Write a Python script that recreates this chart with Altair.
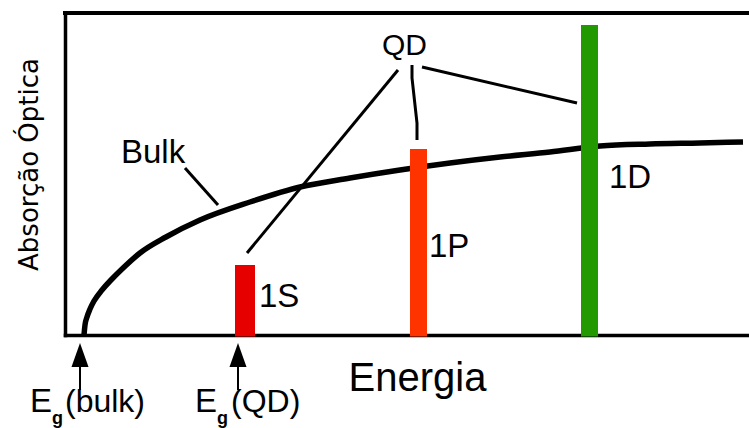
import altair as alt
import pandas as pd

# Bulk absorption edge (arbitrary energy / absorption units)
bulk_energy = [19, 20, 22, 25, 29, 37, 46, 56, 75, 101, 135, 185, 235, 285,
               335, 385, 435, 485, 535, 585, 635, 678]
bulk_absorption = [0, 10, 18, 26, 34, 45, 55, 65, 82, 98, 115, 133, 148, 157,
                   165, 172, 178, 183, 189, 191, 192, 193]

# Discrete quantum-dot transitions
transitions = ["1S", "1P", "1D"]
bar_left = [170, 345, 516]
bar_right = [190, 362, 533]
bar_top = [70, 186, 310]
bar_colors = ["#E60000", "#FF3300", "#229900"]

# Leader lines from the labels to the features they name
leader_group = ["bulk", "bulk", "1S", "1S", "1P", "1P", "1P", "1P", "1D", "1D"]
leader_order = [0, 1, 0, 1, 0, 1, 2, 3, 0, 1]
leader_x = [120, 153, 333, 182, 347, 347, 352, 352, 357, 512]
leader_y = [167, 130, 265, 82, 270, 257, 212, 195, 268, 232]

# Annotation labels
label_text = ["Bulk", "1S", "1P", "1D"]
label_x = [56, 194, 364, 544]
label_y = [172, 28, 78, 147]
qd_text = ["QD"]
qd_x = [317]
qd_y = [280]

# Band-gap markers under the energy axis
gap_names = ["(bulk)", "(QD)"]
gap_energy = [15, 173]
gap_e_x = [-35, 130]
gap_sub_x = [-13, 152]
gap_name_x = [0, 166]
arrow_head_mid = -20
arrow_base = -32
arrow_tail = -55
gap_baseline = -77
gap_sub_baseline = -89

FONT = "Liberation Sans"
x_scale = alt.Scale(domain=[0, 684], nice=False, zero=False)
y_scale = alt.Scale(domain=[0, 322], nice=False, zero=False)

x_axis = alt.Axis(
    title="Energia", ticks=False, labels=False, grid=False,
    domainColor="black", domainWidth=3.5, domainCap="square",
    titleFont=FONT, titleFontSize=40,
    titleFontWeight="normal", titleColor="black",
    titleX=352, titleY=55, titleAlign="center", titleBaseline="alphabetic")
y_axis = alt.Axis(
    title="Absorção Óptica", ticks=False, labels=False, grid=False,
    domainColor="black", domainWidth=3.5, domainCap="square",
    titleFont="DejaVu Sans", titleFontSize=26, titleFontWeight="normal",
    titleColor="black", titleAngle=270, titleX=-28, titleY=151,
    titleAlign="center", titleBaseline="alphabetic")


def xq(field):
    return alt.X(field, type="quantitative", scale=x_scale, axis=x_axis)


def yq(field):
    return alt.Y(field, type="quantitative", scale=y_scale, axis=y_axis)


curve_df = pd.DataFrame({"energy": bulk_energy, "absorption": bulk_absorption})
bars_df = pd.DataFrame({"transition": transitions, "left": bar_left,
                        "right": bar_right, "top": bar_top,
                        "bottom": [-1.5] * len(transitions)})
leader_df = pd.DataFrame({"group": leader_group, "order": leader_order,
                          "x": leader_x, "y": leader_y})
labels_df = pd.DataFrame({"text": label_text, "x": label_x, "y": label_y})
qd_df = pd.DataFrame({"text": qd_text, "x": qd_x, "y": qd_y})
gap_df = pd.DataFrame({
    "name": gap_names, "energy": gap_energy,
    "e_x": gap_e_x, "sub_x": gap_sub_x, "name_x": gap_name_x,
    "mid": [arrow_head_mid] * 2, "base": [arrow_base] * 2,
    "tail": [arrow_tail] * 2, "baseline": [gap_baseline] * 2,
    "sub_baseline": [gap_sub_baseline] * 2,
    "e": ["E"] * 2, "sub": ["g"] * 2,
})

curve = alt.Chart(curve_df).mark_line(
    color="black", strokeWidth=5.5, interpolate="monotone"
).encode(x=xq("energy"), y=yq("absorption"))

top_border = alt.Chart(curve_df).mark_rule(
    color="black", strokeWidth=3.5, strokeCap="square"
).encode(x=alt.value(0), x2=alt.value("width"), y=alt.value(0))

bars = alt.Chart(bars_df).mark_rect().encode(
    x=xq("left"), x2="right:Q",
    y=yq("bottom"), y2="top:Q",
    color=alt.Color("transition:N", legend=None,
                    scale=alt.Scale(domain=transitions, range=bar_colors)),
)

leaders = alt.Chart(leader_df).mark_line(
    color="black", strokeWidth=3, interpolate="linear"
).encode(x=xq("x"), y=yq("y"), detail="group:N", order="order:Q")

labels = alt.Chart(labels_df).mark_text(
    font=FONT, fontSize=33, align="left", baseline="alphabetic", color="black"
).encode(x=xq("x"), y=yq("y"), text="text:N")

qd_label = alt.Chart(qd_df).mark_text(
    font=FONT, fontSize=30, align="left", baseline="alphabetic", color="black"
).encode(x=xq("x"), y=yq("y"), text="text:N")

arrow_shaft = alt.Chart(gap_df).mark_rule(color="black", strokeWidth=2).encode(
    x=xq("energy"), y=yq("base"), y2="tail:Q")

arrow_head = alt.Chart(gap_df).mark_point(
    shape="M0,-1L0.71,1L-0.71,1Z", filled=True, size=576,
    color="black", opacity=1, strokeWidth=0
).encode(x=xq("energy"), y=yq("mid"))

gap_e = alt.Chart(gap_df).mark_text(
    font=FONT, fontSize=33, align="left", baseline="alphabetic", color="black"
).encode(x=xq("e_x"), y=yq("baseline"), text="e:N")

gap_sub = alt.Chart(gap_df).mark_text(
    font=FONT, fontSize=18, fontWeight="bold", align="left",
    baseline="alphabetic", color="black"
).encode(x=xq("sub_x"), y=yq("sub_baseline"), text="sub:N")

gap_name = alt.Chart(gap_df).mark_text(
    font=FONT, fontSize=32, align="left", baseline="alphabetic", color="black"
).encode(x=xq("name_x"), y=yq("baseline"), text="name:N")

chart = alt.layer(
    curve, top_border, bars, leaders, labels, qd_label,
    arrow_shaft, arrow_head, gap_e, gap_sub, gap_name,
).properties(
    width=684,
    height=322,
    autosize=alt.AutoSizeParams(type="none"),
    padding={"left": 65, "top": 13, "right": 0, "bottom": 93},
    background="white",
).configure_view(stroke=None)

chart.save("out.html", embed_options={"renderer": "svg", "actions": False})
